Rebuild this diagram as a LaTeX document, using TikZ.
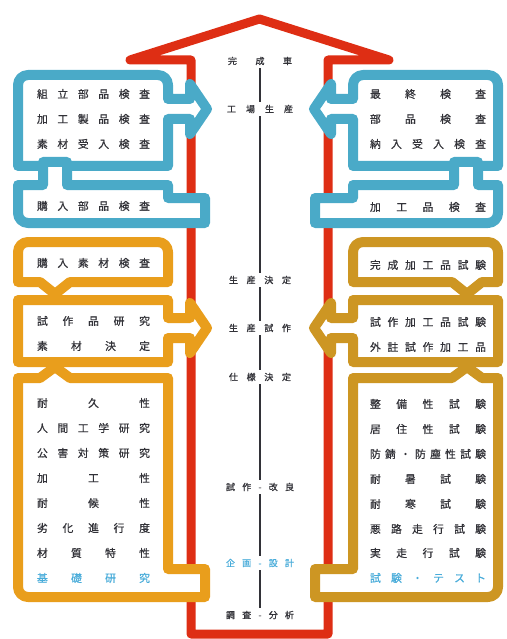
\documentclass[tikz,border=0pt]{standalone}
\usepackage{fontspec}
\newfontfamily\jp[FakeBold=0.7]{Noto Sans CJK JP}
\definecolor{cblue}{RGB}{74,170,200}
\definecolor{corL}{RGB}{233,158,28}
\definecolor{corR}{RGB}{205,150,35}
\definecolor{cred}{RGB}{222,46,20}
\definecolor{ctxt}{RGB}{50,50,56}
\definecolor{ctblue}{RGB}{72,172,218}
\makeatletter
\newcommand{\jsp}[2]{\hbox to #1{\def\jsp@first{1}\@tfor\jsp@c:=#2\do{\ifx\jsp@first\@empty\hfill\fi\let\jsp@first\@empty\jsp@c}}}
\makeatother
\begin{document}
\begin{tikzpicture}[x=1pt,y=-1pt,
  tubebox/.style={line width=10pt, fill=white, line join=round},
  redline/.style={draw=cred, line width=9pt, line join=round},
  rowtxt/.style={font=\jp\fontsize{10.8}{12}\selectfont, text=ctxt, inner sep=0pt},
  ctr/.style={font=\jp\fontsize{9}{10}\selectfont, text=ctxt, inner xsep=0pt, inner ysep=3pt},
  vline/.style={draw=ctxt, line width=2.4pt}]
\useasboundingbox (0,0) rectangle (506,639);
\fill[white] (0,0) rectangle (506,639);
% red arrow
\draw[redline] (191,634) -- (191,60) -- (130,60) -- (259.5,19) -- (389,60) -- (328,60) -- (328,634) -- cycle;
% blue left
\draw[tubebox, draw=cblue] (18,166) -- (18,85) arc[start angle=180,end angle=270,radius=10] -- (158,75) arc[start angle=270,end angle=360,radius=10] -- (168,99) -- (190,99) -- (190,84) -- (207,109) -- (190,134) -- (190,119) -- (168,119) -- (168,166) -- cycle;
\draw[tubebox, draw=cblue] (18,185) -- (43,185) -- (43,162) -- (67,162) -- (67,185) -- (168,185) -- (168,198) -- (205,198) -- (205,223) -- (28,223) arc[start angle=90,end angle=180,radius=10] -- cycle;
% blue right
\draw[tubebox, draw=cblue] (353,166) -- (353,119) -- (331,119) -- (331,134) -- (314,109) -- (331,84) -- (331,99) -- (353,99) -- (353,85) arc[start angle=180,end angle=270,radius=10] -- (488,75) arc[start angle=270,end angle=360,radius=10] -- (498,166) -- cycle;
\draw[tubebox, draw=cblue] (498,185) -- (478,185) -- (478,162) -- (454,162) -- (454,185) -- (353,185) -- (353,198) -- (315,198) -- (315,223) -- (488,223) arc[start angle=90,end angle=0,radius=10] -- cycle;
% orange left
\draw[tubebox, draw=corL] (18,282) -- (18,252) arc[start angle=180,end angle=270,radius=10] -- (158,242) arc[start angle=270,end angle=360,radius=10] -- (168,282) -- (70,282) -- (55,294) -- (40,282) -- cycle;
\draw[tubebox, draw=corL] (18,300) -- (168,300) -- (168,318) -- (190,318) -- (190,303) -- (207,328) -- (190,353) -- (190,338) -- (168,338) -- (168,362) -- (18,362) -- cycle;
\draw[tubebox, draw=corL] (18,378) -- (40,378) -- (55,367) -- (70,378) -- (168,378) -- (168,569) -- (205,569) -- (205,597) -- (28,597) arc[start angle=90,end angle=180,radius=10] -- cycle;
% orange right
\draw[tubebox, draw=corR] (353,282) -- (353,252) arc[start angle=180,end angle=270,radius=10] -- (488,242) arc[start angle=270,end angle=360,radius=10] -- (498,282) -- (482,282) -- (467,294) -- (452,282) -- cycle;
\draw[tubebox, draw=corR] (498,300) -- (353,300) -- (353,318) -- (331,318) -- (331,303) -- (314,328) -- (331,353) -- (331,338) -- (353,338) -- (353,362) -- (498,362) -- cycle;
\draw[tubebox, draw=corR] (498,378) -- (482,378) -- (467,367) -- (452,378) -- (353,378) -- (353,569) -- (315,569) -- (315,597) -- (488,597) arc[start angle=90,end angle=0,radius=10] -- cycle;
% left texts
\node[rowtxt] (bl1) at (93.5,94) {\jsp{113pt}{組立部品検査}};
\node[rowtxt] (bl2) at (93.5,119) {\jsp{113pt}{加工製品検査}};
\node[rowtxt] (bl3) at (93.5,144) {\jsp{113pt}{素材受入検査}};
\node[rowtxt] (bl4) at (93.5,206) {\jsp{113pt}{購入部品検査}};
\node[rowtxt] (ol1) at (93.5,263) {\jsp{113pt}{購入素材検査}};
\node[rowtxt] (ol2) at (93.5,321) {\jsp{113pt}{試作品研究}};
\node[rowtxt] (ol3) at (93.5,346) {\jsp{113pt}{素材決定}};
\node[rowtxt] (ol4) at (93.5,403) {\jsp{113pt}{耐久性}};
\node[rowtxt] (ol5) at (93.5,428) {\jsp{113pt}{人間工学研究}};
\node[rowtxt] (ol6) at (93.5,453) {\jsp{113pt}{公害対策研究}};
\node[rowtxt] (ol7) at (93.5,478) {\jsp{113pt}{加工性}};
\node[rowtxt] (ol8) at (93.5,503) {\jsp{113pt}{耐候性}};
\node[rowtxt] (ol9) at (93.5,528) {\jsp{113pt}{劣化進行度}};
\node[rowtxt] (ol10) at (93.5,553) {\jsp{113pt}{材質特性}};
\node[rowtxt, text=ctblue] (ol11) at (93.5,578) {\jsp{113pt}{基礎研究}};
% right texts
\node[rowtxt] (br1) at (428,94) {\jsp{116pt}{最終検査}};
\node[rowtxt] (br2) at (428,119) {\jsp{116pt}{部品検査}};
\node[rowtxt] (br3) at (428,144) {\jsp{116pt}{納入受入検査}};
\node[rowtxt] (br4) at (428,207) {\jsp{116pt}{加工品検査}};
\node[rowtxt] (or1) at (428,265) {\jsp{116pt}{完成加工品試験}};
\node[rowtxt] (or2) at (428,322) {\jsp{116pt}{試作加工品試験}};
\node[rowtxt] (or3) at (428,347) {\jsp{116pt}{外註試作加工品}};
\node[rowtxt] (or4) at (428,404) {\jsp{116pt}{整備性試験}};
\node[rowtxt] (or5) at (428,429) {\jsp{116pt}{居住性試験}};
\node[rowtxt] (or6) at (428,454) {\jsp{116pt}{防錆・防塵性試験}};
\node[rowtxt] (or7) at (428,479) {\jsp{116pt}{耐暑試験}};
\node[rowtxt] (or8) at (428,504) {\jsp{116pt}{耐寒試験}};
\node[rowtxt] (or9) at (428,529) {\jsp{116pt}{悪路走行試験}};
\node[rowtxt] (or10) at (428,553) {\jsp{116pt}{実走行試験}};
\node[rowtxt, text=ctblue] (or11) at (428,578) {\jsp{116pt}{試験・テスト}};
% center column
\node[ctr] (k1) at (260,61) {\jsp{64pt}{完成車}};
\node[ctr] (k2) at (260,109) {\jsp{66pt}{工場生産}};
\node[ctr] (k3) at (260,280) {\jsp{62pt}{生産決定}};
\node[ctr] (k4) at (260,328) {\jsp{62pt}{生産試作}};
\node[ctr] (k5) at (260,377) {\jsp{62pt}{仕様決定}};
\node[ctr] (k6) at (260,487) {\jsp{68pt}{試作-改良}};
\node[ctr, text=ctblue] (k7) at (260,563) {\jsp{68pt}{企画-設計}};
\node[ctr] (k8) at (260,615) {\jsp{68pt}{調査-分析}};
\draw[vline] (k1) -- (k2);
\draw[vline] (k2) -- (k3);
\draw[vline] (k3) -- (k4);
\draw[vline] (k4) -- (k5);
\draw[vline] (k5) -- (k6);
\draw[vline] (k6) -- (k7);
\draw[vline] (k7) -- (k8);
\end{tikzpicture}
\end{document}
